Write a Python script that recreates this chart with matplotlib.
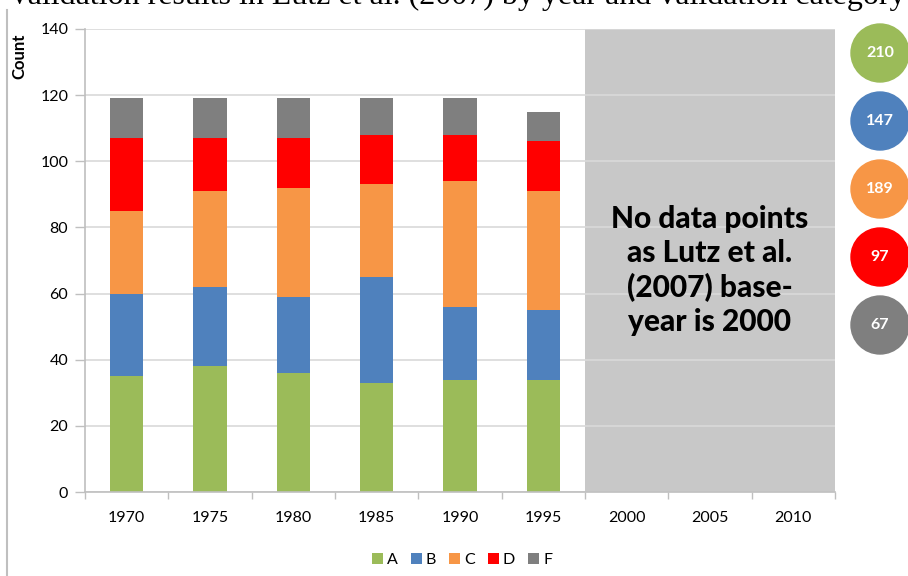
import matplotlib
matplotlib.use("Agg")
import matplotlib.pyplot as plt
from matplotlib.patches import Ellipse
from matplotlib.lines import Line2D
import numpy as np

years = ["1970", "1975", "1980", "1985", "1990", "1995", "2000", "2005", "2010"]
cats = ["A", "B", "C", "D", "F"]
A = [35, 38, 36, 33, 34, 34]
B = [25, 24, 23, 32, 22, 21]
C = [25, 29, 33, 28, 38, 36]
D = [22, 16, 15, 15, 14, 15]
F = [12, 12, 12, 11, 11, 9]
totals = [210, 147, 189, 97, 67]
colors = ["#9BBB59", "#4F81BD", "#F79646", "#FF0000", "#7F7F7F"]
yticks = [0, 20, 40, 60, 80, 100, 120, 140]
note = "No data points\nas Lutz et al.\n(2007) base-\nyear is 2000"
caption = "Validation results in Lutz et al. (2007) by year and validation category"

plt.rcParams['font.family'] = ['Lato', 'DejaVu Sans']

W, H = 908, 576
fig = plt.figure(figsize=(W / 100, H / 100), dpi=100)
ax = fig.add_axes([85 / W, (H - 492) / H, 750 / W, 463 / H])

x = np.arange(len(A))
bottom = np.zeros(len(A))
for name, vals, col in zip(cats, [A, B, C, D, F], colors):
    ax.bar(x, vals, width=0.4, bottom=bottom, color=col, label=name, zorder=2)
    bottom += np.array(vals)

ax.axvspan(5.5, 8.5, ymin=0, ymax=1, color="#C8C8C8", zorder=0.2, lw=0)
ax.text(7.0, 67.0, note, ha="center", va="center", fontsize=21.5, fontweight="black",
        color="black", linespacing=1.26, zorder=3)

ax.set_xlim(-0.5, 8.5)
ax.set_ylim(0, 140)
ax.set_yticks(yticks)
ax.set_xticks(np.arange(len(years)))
ax.set_xticklabels(years)
ax.set_xticks(np.arange(-0.5, 9.0, 1.0), minor=True)
ax.tick_params(axis="x", which="major", length=0, pad=14, labelsize=11.5)
ax.tick_params(axis="x", which="minor", length=5, color="#BFBFBF", width=1)
ax.tick_params(axis="y", length=7, color="#BFBFBF", width=1, labelsize=11.5, pad=5)
ax.yaxis.grid(True, color="#D9D9D9", lw=1.2, zorder=0.5)
ax.set_axisbelow(True)
for s in ["top", "right"]:
    ax.spines[s].set_visible(False)
for s in ["left", "bottom"]:
    ax.spines[s].set_color("#BFBFBF")
    ax.spines[s].set_linewidth(1.2)
ax.set_ylabel("Count", fontsize=12, fontweight="bold", labelpad=10)
ax.yaxis.set_label_coords(-0.077, 0.94)

leg = fig.legend(loc="center", bbox_to_anchor=(462 / W, (H - 560) / H), ncol=5, frameon=False,
                 fontsize=11.5, handlelength=0.7, handleheight=0.7, handletextpad=0.25,
                 columnspacing=0.8)

# circles on the right
cy = [53, 121, 189, 257, 325]
for yy, t, col in zip(cy, totals, colors):
    e = Ellipse((880 / W, (H - yy) / H), 58 / W, 58 / H, transform=fig.transFigure,
                color=col, zorder=5)
    fig.add_artist(e)
    fig.text(880 / W, (H - yy) / H, str(t), ha="center", va="center", color="white",
             fontsize=11.5, fontweight="bold", zorder=6)

# page border line and clipped caption
fig.add_artist(Line2D([7 / W, 7 / W], [0, (H - 10) / H], transform=fig.transFigure,
                      color="#BFBFBF", lw=1.5))
fig.text(905 / W, (H - 4) / H, caption,
         ha="right", va="baseline", fontsize=23, family=["Liberation Serif"])

fig.savefig("out.png", dpi=100)
